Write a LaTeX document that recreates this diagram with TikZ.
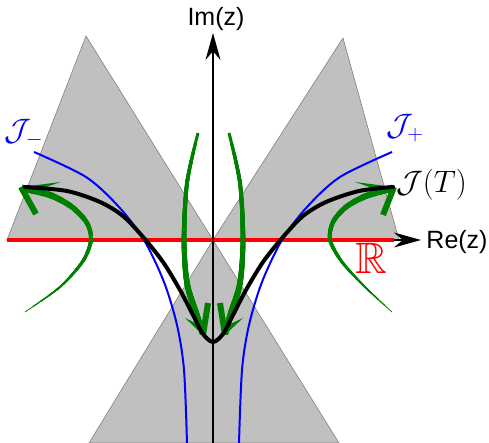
\RequirePackage{fix-cm}
\documentclass[tikz,border=0pt]{standalone}
\usepackage{amsmath}
\usepackage{amssymb}
\usepackage{fontspec}
\newfontfamily\axisfont{Liberation Sans}
\usetikzlibrary{arrows.meta,calc}

\definecolor{flowgreen}{RGB}{0,128,0}
\definecolor{wedgegray}{RGB}{192,192,192}

% green flow line, thin at the start and thick at the end
\newcommand{\flowpath}[3]{%
  \foreach \k in {0,...,19}{
    \pgfmathsetmacro{\gap}{\k*9.5}
    \draw[flowgreen, line width={(#2+\k*#3)*1pt}, dash pattern=on 0pt off \gap pt on 2000pt]
      plot[smooth] coordinates {#1};}}
% head of a green flow arrow: tip, thin barb, thick barb
\newcommand{\flowhead}[3]{%
  \fill[flowgreen] (#1) -- (#2) -- ($(#1)!8pt!(#3)$) -- cycle;
  \draw[flowgreen, line width=6pt] (#1) -- (#3);}

\begin{document}
\begin{tikzpicture}[x=1pt,y=-1pt,
    wedge/.style={fill=wedgegray, draw=gray, line width=0.6pt},
    thimble/.style={blue, line width=2pt},
    axis/.style={black, line width=1.5pt, -{Stealth[length=27pt,width=15pt]}},
    contour/.style={black, line width=4pt, line cap=round, line join=round},
    axislabel/.style={font=\axisfont\fontsize{25}{28}\selectfont},
    mathlabel/.style={font=\fontsize{31}{34}\selectfont}]
    \useasboundingbox (0,0) rectangle (489,443);

    % Axes points
    \coordinate (O) at (213,240);
    \coordinate (ytop) at (213,33);
    \coordinate (ybot) at (213,443);
    \coordinate (xleft) at (7,240);
    \coordinate (xend) at (394,240);
    \coordinate (xtip) at (421,240);

    % Stokes wedges
    \filldraw[wedge] (O) -- (86,36) -- (7,240) -- cycle;
    \filldraw[wedge] (O) -- (343,38) -- (399,240) -- cycle;
    \filldraw[wedge] (O) -- (89,443) -- (339,443) -- cycle;

    % Axes
    \draw[red, line width=3.5pt] (xleft) -- (xend);
    \draw[axis] (ybot) -- (ytop);
    \draw[axis] (xend) -- (xtip);

    % Thimbles
    \draw[thimble] plot[smooth] coordinates {(392,152) (340,177) (307,207) (282,240) (262,282) (249,325) (242,370) (239,443)};
    \draw[thimble] plot[smooth] coordinates {(34,152) (86,177) (119,207) (144,240) (164,282) (177,325) (184,370) (187,443)};

    % Flow
    \flowpath{(25,312) (60,287) (83,261) (91,240) (87,223) (72,207) (50,195) (22,188)}{0.8}{0.32}
    \flowpath{(392,312) (365,287) (342,262) (330,240) (333,222) (346,207) (366,196) (393,188)}{0.8}{0.32}
    \flowpath{(198,133) (187,183) (184,240) (187,283) (196,313) (203,334)}{3}{0.16}
    \flowpath{(229,133) (240,183) (243,240) (240,283) (231,313) (225,334)}{3}{0.16}
    \flowhead{21,187}{61,182}{36,214}
    \flowhead{394,187}{355,182}{383,215}
    \flowhead{203,335}{185,318}{208,303}
    \flowhead{225,335}{243,318}{220,303}

    % Integration contour
    \draw[contour] plot[smooth] coordinates {(25,187) (67,191) (100,202) (123,216) (143,237) (163,262) (180,290) (193,315) (203,334) (213,342) (223,334) (233,315) (246,290) (263,262) (283,237) (303,216) (326,202) (359,191) (393,187)};

    % Labels
    \node[axislabel] (imlabel) at (216,19) {Im(z)};
    \node[axislabel] (relabel) at (457,242) {Re(z)};
    \node[mathlabel, text=blue] (jminus) at (24,133) {$\mathcal{J}_-$};
    \node[mathlabel, text=blue] (jplus) at (405,128) {$\mathcal{J}_+$};
    \node[mathlabel, anchor=west, inner sep=1pt] (jT) at (395,185) {$\mathcal{J}(T)$};
    \node[text=red, font=\fontsize{44}{48}\selectfont] (reals) at (371,258) {$\mathbb{R}$};
\end{tikzpicture}
\end{document}
